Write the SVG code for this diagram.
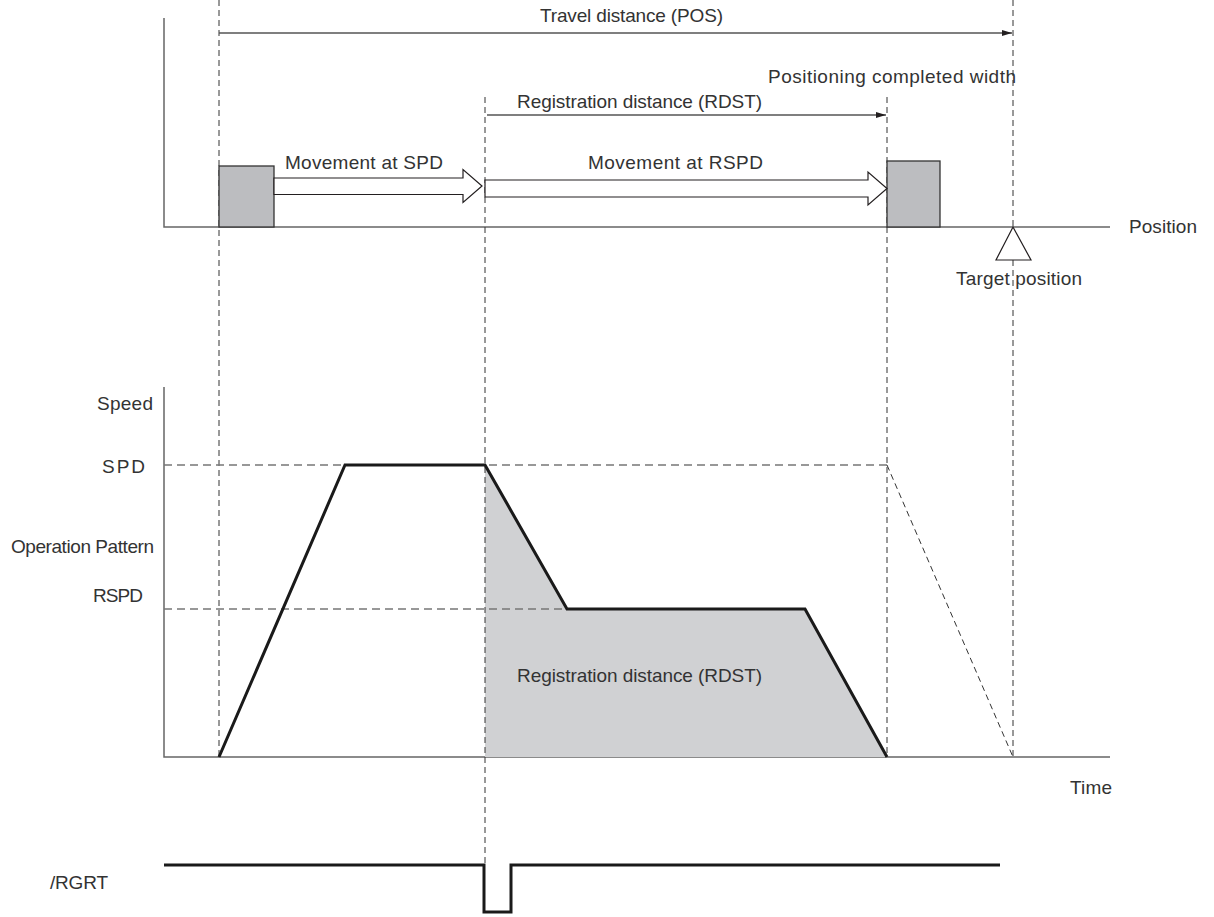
<svg xmlns="http://www.w3.org/2000/svg" width="1214" height="917" viewBox="0 0 1214 917">
<defs>
<marker id="ah" viewBox="0 0 10 6" refX="10" refY="3" markerWidth="10" markerHeight="6" markerUnits="userSpaceOnUse" orient="auto">
<path d="M0,0 L10,3 L0,6 Z" fill="#231f20"/>
</marker>
</defs>
<style>
text{font-family:"Liberation Sans",Arial,sans-serif;font-size:19px;fill:#333}
.axis{stroke:#666;stroke-width:1.5;fill:none}
.vd{stroke:#333;stroke-width:1;stroke-dasharray:6,4;fill:none}
.hd{stroke:#777;stroke-width:1.3;stroke-dasharray:8,5;fill:none}
.dim{stroke:#555;stroke-width:1.3;fill:none}
.prof{stroke:#1a1a1a;stroke-width:3;fill:none;stroke-linejoin:miter}
.box{fill:#bcbdc0;stroke:#333;stroke-width:1.3}
.harrow{fill:#fff;stroke:#231f20;stroke-width:1.2}
</style>
<g id="axes">
<polyline class="axis" points="164,18 164,227 1110,227"/>
<polyline class="axis" points="164,387 164,757 1110,757"/>
</g>
<g id="fill">
<polygon points="485,465 567,609 805,609 887,757 485,757" fill="#d0d1d3"/>
</g>
<g id="connectors">
<line class="vd" x1="219" y1="0" x2="219" y2="757"/>
<line class="vd" x1="1013" y1="0" x2="1013" y2="757"/>
<line class="vd" x1="485" y1="97" x2="485" y2="865"/>
<line class="vd" x1="887" y1="97" x2="887" y2="757"/>
<line class="hd" x1="164" y1="465" x2="887" y2="465"/>
<line class="hd" x1="164" y1="609" x2="567" y2="609"/>
<line class="vd" x1="887" y1="465" x2="1013" y2="757"/>
<line class="dim" x1="219" y1="33" x2="1012" y2="33" marker-end="url(#ah)"/>
<line class="dim" x1="487" y1="115" x2="886" y2="115" marker-end="url(#ah)"/>
</g>
<g id="box-start"><rect class="box" x="219" y="166" width="55" height="61"/></g>
<g id="box-end"><rect class="box" x="887" y="161" width="53" height="66"/></g>
<g id="move-spd">
<polygon class="harrow" points="274,178 463,178 463,169.5 482,186 463,202.5 463,194.5 274,194.5"/>
</g>
<g id="move-rspd">
<polygon class="harrow" points="485,180 868,180 868,172 887,188.5 868,205 868,197 485,197"/>
</g>
<g id="target">
<polygon points="1013,227 996,260 1031,260" fill="#fff" stroke="#231f20" stroke-width="1.2"/>
</g>
<g id="profile">
<polyline class="prof" points="219,757 345,465 485,465 567,609 805,609 887,757"/>
</g>
<g id="rgrt">
<polyline class="prof" points="164,865 484,865 484,912 511,912 511,865 1000,865"/>
</g>
<g id="labels">
<text x="540" y="22" textLength="183">Travel distance (POS)</text>
<text x="768" y="83" textLength="248">Positioning completed width</text>
<text x="517" y="108" textLength="245">Registration distance (RDST)</text>
<text x="285" y="169" textLength="158">Movement at SPD</text>
<text x="588" y="169" textLength="175">Movement at RSPD</text>
<text x="1129" y="233" textLength="68">Position</text>
<text x="956" y="285" textLength="126">Target position</text>
<text x="97" y="410" textLength="56">Speed</text>
<text x="102" y="473" textLength="43">SPD</text>
<text x="11" y="553" textLength="143">Operation Pattern</text>
<text x="93" y="602" textLength="50">RSPD</text>
<text x="517" y="682" textLength="245">Registration distance (RDST)</text>
<text x="1070" y="794" textLength="42">Time</text>
<text x="50" y="889" textLength="58">/RGRT</text>
</g>
</svg>
